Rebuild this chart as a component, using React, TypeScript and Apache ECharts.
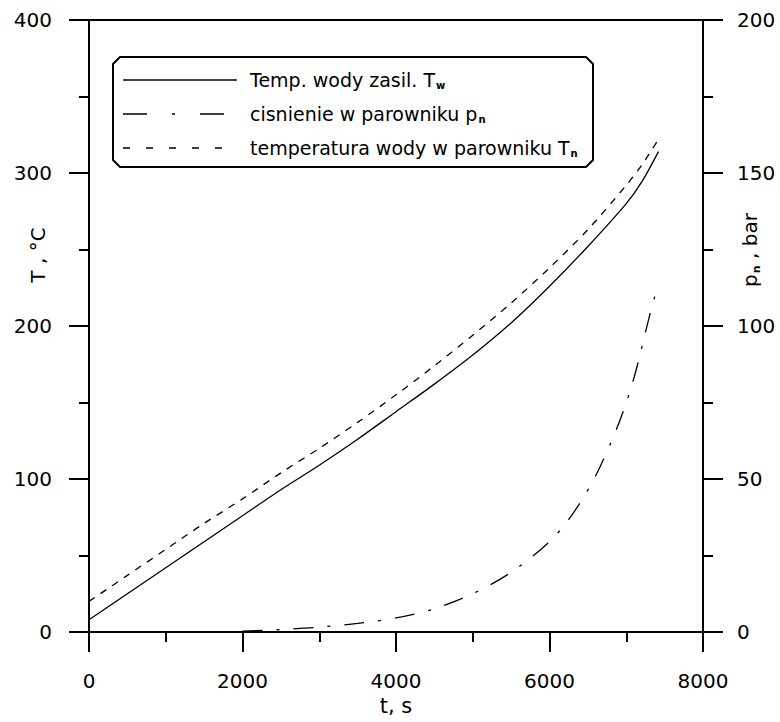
import React, { useEffect, useRef } from "react";
import * as echarts from "echarts";

const timeT = [0, 500, 1000, 1500, 2000, 2500, 3000, 3500, 4000, 4500, 5000, 5500, 6000, 6500, 7000, 7200, 7420];
const tempSupply = [8, 25, 42, 59, 76, 93, 109, 126, 144, 162, 181, 202, 226, 252, 280, 294, 314];
const tempEvap = [20, 37, 54, 71, 87, 104, 120, 137, 155, 174, 194, 215, 238, 263, 292, 305, 322];
const timeP = [2000, 2500, 3000, 3500, 4000, 4500, 5000, 5500, 6000, 6300, 6600, 6900, 7100, 7300, 7420];
const pressure = [0.3, 0.8, 1.6, 2.8, 4.6, 7.6, 12.5, 19.5, 29.5, 38.5, 51, 68, 83, 103, 114];

const legendLabels = [
  "Temp. wody zasil. T{sub|w}",
  "cisnienie w parowniku p{sub|n}",
  "temperatura wody w parowniku T{sub|n}",
];
const leftTitle = "T , \u00B0C";
const rightTitle = "p{sub|n} , bar";
const bottomTitle = "t, s";

const FONT = "'DejaVu Sans', Verdana, sans-serif";

export default function App() {
  const ref = useRef<HTMLDivElement>(null);
  useEffect(() => {
    const chart = echarts.init(ref.current!, null, { renderer: "svg" });
    const sub = { fontSize: 10, fontWeight: "bold", verticalAlign: "bottom", padding: [10, 0, 0, 1], fontFamily: FONT, color: "#000" };
    const legendDash: any[] = [null, [24, 25, 3, 25, 24], [7, 16]];
    const c = 7;
    const bx1 = 113, by1 = 57, bx2 = 593, by2 = 167;
    const g: any[] = [
      {
        type: "polygon",
        shape: {
          points: [
            [bx1 + c, by1], [bx2 - c, by1], [bx2, by1 + c], [bx2, by2 - c],
            [bx2 - c, by2], [bx1 + c, by2], [bx1, by2 - c], [bx1, by1 + c],
          ],
        },
        style: { fill: "#fff", stroke: "#000", lineWidth: 2 },
        z: 10,
      },
    ];
    legendLabels.forEach((lab, i) => {
      const y = 80 + i * 34;
      g.push({
        type: "line",
        shape: { x1: 123, y1: y, x2: 237, y2: y },
        style: { stroke: "#000", lineWidth: 1.5, lineDash: legendDash[i] },
        z: 11,
      });
      g.push({
        type: "text",
        x: 250,
        y: y,
        style: { text: lab, fontSize: 19, fontFamily: FONT, fill: "#000", verticalAlign: "middle", rich: { sub } },
        z: 11,
      });
    });
    g.push({
      type: "text",
      x: 38,
      y: 255,
      rotation: Math.PI / 2,
      style: { text: leftTitle, fontSize: 20, fontFamily: FONT, fill: "#000", align: "center", verticalAlign: "middle" },
    });
    g.push({
      type: "text",
      x: 750,
      y: 250,
      rotation: Math.PI / 2,
      style: {
        text: rightTitle,
        fontSize: 20,
        fontFamily: FONT,
        fill: "#000",
        align: "center",
        verticalAlign: "middle",
        rich: { sub: { ...sub, fontSize: 11, padding: [12, 0, 0, 1] } },
      },
    });

    const tickStyle = { color: "#000", width: 2 };
    const labelFmt = (v: number) => String(v);

    chart.setOption({
      animation: false,
      backgroundColor: "#fff",
      textStyle: { fontFamily: FONT, color: "#000" },
      grid: { left: 89, right: 77, top: 20, bottom: 90, show: true, borderColor: "#000", borderWidth: 2 },
      xAxis: {
        type: "value",
        min: 0,
        max: 8000,
        interval: 2000,
        name: bottomTitle,
        nameLocation: "middle",
        nameGap: 62,
        nameTextStyle: { fontSize: 21, color: "#000", fontFamily: FONT },
        axisLine: { lineStyle: { color: "#000", width: 2 } },
        axisTick: { length: 20, lineStyle: tickStyle },
        minorTick: { show: true, splitNumber: 2, length: 10, lineStyle: tickStyle },
        axisLabel: { fontSize: 20, color: "#000", margin: 39, fontFamily: FONT, formatter: labelFmt },
        splitLine: { show: false },
      },
      yAxis: [
        {
          type: "value",
          min: 0,
          max: 400,
          interval: 100,
          position: "left",
          axisLine: { show: true, lineStyle: { color: "#000", width: 2 } },
          axisTick: { length: 20, lineStyle: tickStyle },
          minorTick: { show: true, splitNumber: 2, length: 10, lineStyle: tickStyle },
          axisLabel: { fontSize: 20, color: "#000", margin: 37, fontFamily: FONT, formatter: labelFmt },
          splitLine: { show: false },
        },
        {
          type: "value",
          min: 0,
          max: 200,
          interval: 50,
          position: "right",
          axisLine: { show: true, lineStyle: { color: "#000", width: 2 } },
          axisTick: { length: 20, lineStyle: tickStyle },
          minorTick: { show: true, splitNumber: 2, length: 10, lineStyle: tickStyle },
          axisLabel: { fontSize: 20, color: "#000", margin: 34, fontFamily: FONT, formatter: labelFmt },
          splitLine: { show: false },
        },
      ],
      series: [
        {
          type: "line",
          name: "Tw",
          yAxisIndex: 0,
          data: timeT.map((t, i) => [t, tempSupply[i]]),
          showSymbol: false,
          smooth: 0.3,
          lineStyle: { color: "#000", width: 1.3, type: "solid" },
        },
        {
          type: "line",
          name: "pn",
          yAxisIndex: 1,
          data: timeP.map((t, i) => [t, pressure[i]]),
          showSymbol: false,
          smooth: 0.3,
          lineStyle: { color: "#000", width: 1.3, type: [20, 14, 3, 14] },
        },
        {
          type: "line",
          name: "Tn",
          yAxisIndex: 0,
          data: timeT.map((t, i) => [t, tempEvap[i]]),
          showSymbol: false,
          smooth: 0.3,
          lineStyle: { color: "#000", width: 1.3, type: [7, 7] },
        },
      ],
      graphic: g,
    });
    return () => chart.dispose();
  }, []);
  return <div ref={ref} style={{ position: "fixed", left: 0, top: 0, width: 780, height: 722 }} />;
}
